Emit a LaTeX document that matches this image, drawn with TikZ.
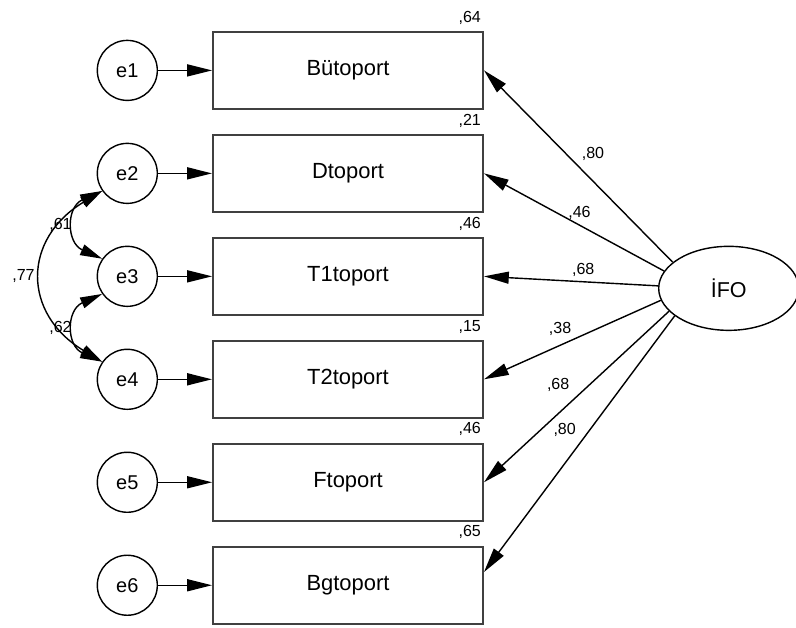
\documentclass[tikz,border=0pt]{standalone}
\usepackage{fontspec}
\setmainfont{Liberation Sans}
\usetikzlibrary{positioning,arrows.meta,shapes.geometric}

\tikzset{
	obs/.style={draw=black!75, line width=1.4pt, minimum width=6.75cm, minimum height=1.925cm, font=\fontsize{15.6}{18}\selectfont},
	err/.style={circle, draw, line width=1pt, minimum size=1.5cm, inner sep=0pt, font=\fontsize{14.2}{17}\selectfont},
	lat/.style={ellipse, draw, line width=1pt, minimum width=3.5cm, minimum height=2.1cm, font=\fontsize{15.3}{18}\selectfont},
	load/.style={-{Triangle[length=0.62cm,width=0.3cm]}, line width=1pt},
	cov/.style={{Triangle[length=0.55cm,width=0.28cm]}-{Triangle[length=0.55cm,width=0.28cm]}, line width=1pt},
	coef/.style={font=\fontsize{11.4}{13}\selectfont, inner sep=2pt},
}

\begin{document}
\begin{tikzpicture}
	\useasboundingbox (0,0) rectangle (19.9,-15.675);
	
	% 1. 观测变量（方框），从上往下排
	\node[obs] (b1) at (8.7,-1.76) {Bütoport};
	\node[obs, below=0.6cm of b1] (b2) {Dtoport};
	\node[obs, below=0.6cm of b2] (b3) {T1toport};
	\node[obs, below=0.6cm of b3] (b4) {T2toport};
	\node[obs, below=0.6cm of b4] (b5) {Ftoport};
	\node[obs, below=0.6cm of b5] (b6) {Bgtoport};
	
	% 方框右上角的 R^2
	\node[coef, anchor=base east] (r1) at ([yshift=0.22cm]b1.north east) {,64};
	\node[coef, anchor=base east] (r2) at ([yshift=0.22cm]b2.north east) {,21};
	\node[coef, anchor=base east] (r3) at ([yshift=0.22cm]b3.north east) {,46};
	\node[coef, anchor=base east] (r4) at ([yshift=0.22cm]b4.north east) {,15};
	\node[coef, anchor=base east] (r5) at ([yshift=0.22cm]b5.north east) {,46};
	\node[coef, anchor=base east] (r6) at ([yshift=0.22cm]b6.north east) {,65};
	
	% 2. 误差项（圆）
	\node[err, left=1.35cm of b1] (e1) {e1};
	\node[err, left=1.35cm of b2] (e2) {e2};
	\node[err, left=1.35cm of b3] (e3) {e3};
	\node[err, left=1.35cm of b4] (e4) {e4};
	\node[err, left=1.35cm of b5] (e5) {e5};
	\node[err, left=1.35cm of b6] (e6) {e6};
	
	% 3. 潜变量
	\node[lat, right=4.35cm of b3, yshift=-0.3cm] (ifo) {İFO};
	
	% 4. 误差 -> 方框
	\draw[load] (e1) -- (b1);
	\draw[load] (e2) -- (b2);
	\draw[load] (e3) -- (b3);
	\draw[load] (e4) -- (b4);
	\draw[load] (e5) -- (b5);
	\draw[load] (e6) -- (b6);
	
	% 5. 因子载荷（标准化）
	\draw[load] (ifo.155) -- (b1.east) node[coef, pos=0.5, above right, yshift=0.05cm] (l1) {,80};
	\draw[load] (ifo.165) -- (b2.east) node[coef, pos=0.47, above, yshift=0.05cm] (l2) {,46};
	\draw[load] (ifo.178) -- (b3.east) node[coef, pos=0.43, above, yshift=0.05cm] (l3) {,68};
	\draw[load] (ifo.190) -- (b4.east) node[coef, pos=0.57, above, yshift=0.15cm] (l4) {,38};
	\draw[load] (ifo.201) -- (b5.east) node[coef, pos=0.52, above left, yshift=0.12cm] (l5) {,68};
	\draw[load] (ifo.207) -- ([yshift=0.33cm]b6.east) node[coef, pos=0.50, above left, yshift=0.1cm] (l6) {,80};
	
	% 6. 误差相关（双向弧线）
	\draw[cov] (e2.215) .. controls +(-0.9,-0.4) and +(-0.9,0.4) .. (e3.145) node[coef, midway, left] (c23) {,61};
	\draw[cov] (e3.215) .. controls +(-0.9,-0.4) and +(-0.9,0.4) .. (e4.145) node[coef, midway, left] (c34) {,62};
	\draw[cov] (e2.215) .. controls +(-2.0,-1.2) and +(-2.0,1.2) .. (e4.145) node[coef, midway, left, xshift=-0.1cm] (c24) {,77};
\end{tikzpicture}
\end{document}
